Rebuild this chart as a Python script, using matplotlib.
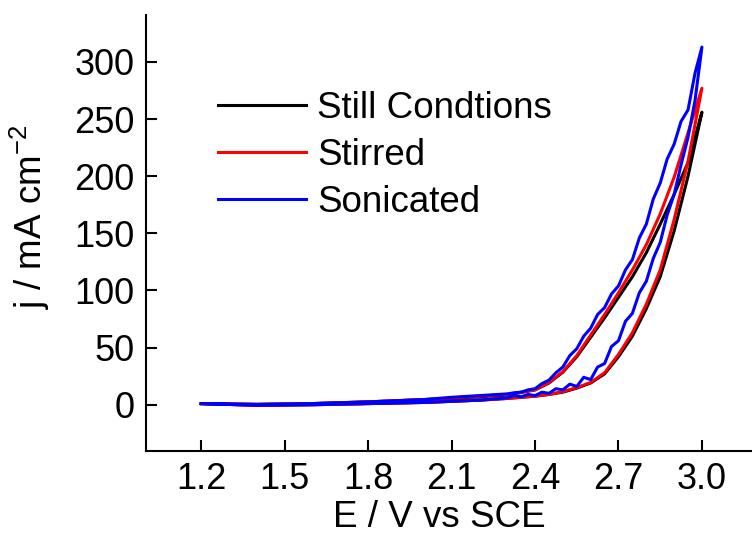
import matplotlib
matplotlib.use('Agg')
import matplotlib.pyplot as plt

plt.rcParams['font.family'] = ['Liberation Sans', 'DejaVu Sans']
plt.rcParams['mathtext.fontset'] = 'custom'
plt.rcParams['mathtext.rm'] = 'Liberation Sans'
plt.rcParams['mathtext.it'] = 'Liberation Sans:italic'

# potential grid (V vs SCE) for the smooth curves
e_fwd = [1.2, 1.4, 1.6, 1.8, 2.0, 2.1, 2.2, 2.3, 2.4, 2.45, 2.5, 2.55, 2.6, 2.65,
         2.7, 2.75, 2.8, 2.85, 2.9, 2.95, 3.0]
e_rev = e_fwd[::-1]

# still conditions
still_fwd = [1, -0.5, 0, 1, 2, 3, 4, 5.5, 7.5, 9, 11, 14.5, 19, 27,
             42, 60, 84, 112, 152, 200, 256]
still_rev = [256, 212, 184, 158, 133, 112, 94, 76, 59, 42, 28.5, 19, 13,
             8.5, 7, 5.5, 4.5, 2.5, 1, 0.3, 1]

# stirred
stir_fwd = [1, -0.5, 0, 1, 2, 3, 4, 5.5, 7.5, 9, 11.5, 15, 19.5, 28,
            44, 63, 88, 118, 162, 213, 277]
stir_rev = [277, 238, 199, 167, 140, 118, 98, 79, 61, 43, 29, 19.5, 13,
            9, 7.5, 6, 4.5, 2.5, 1, 0.3, 1]

# sonicated (noisy, so read at finer steps above 2.3 V)
e_son_fwd = [1.2, 1.4, 1.6, 1.8, 2.0, 2.1, 2.2,
             2.3, 2.325, 2.35, 2.375, 2.4, 2.425, 2.45, 2.475, 2.5, 2.525, 2.55,
             2.575, 2.6, 2.625, 2.65, 2.675, 2.7, 2.725, 2.75, 2.775, 2.8, 2.825,
             2.85, 2.875, 2.9, 2.925, 2.95, 2.975, 3.0]
son_fwd = [1, -0.5, 0, 1, 2, 3, 4,
           6, 8, 7, 9, 8, 11, 10, 14, 13, 18, 16,
           24, 22, 33, 36, 51, 56, 73, 80, 98, 108, 128,
           142, 166, 184, 210, 234, 266, 313]
e_son_rev = e_son_fwd[::-1]
son_rev = [313, 290, 258, 248, 228, 215, 194, 180, 158, 146, 127, 118, 104, 97,
           85, 79, 67, 60, 49, 43, 33, 28, 21.5, 18.5, 14, 13, 11, 10.5, 9.5,
           8, 6.5, 4.5, 2.5, 1, 0.3, 1]

fig = plt.figure(figsize=(7.52, 5.38), dpi=100)
ax = fig.add_axes([0.1937, 0.1617, 0.8063, 0.8103])

ax.plot(e_fwd + e_rev, still_fwd + still_rev, color='black', lw=2.2, label='Still Condtions')
ax.plot(e_fwd + e_rev, stir_fwd + stir_rev, color='red', lw=2.2, label='Stirred')
ax.plot(e_son_fwd + e_son_rev, son_fwd + son_rev, color='blue', lw=2.2, label='Sonicated')

ax.set_xlim(1.0, 3.18)
ax.set_ylim(-40.5, 341)
ax.set_xticks([1.2, 1.5, 1.8, 2.1, 2.4, 2.7, 3.0])
ax.set_xticklabels(['1.2', '1.5', '1.8', '2.1', '2.4', '2.7', '3.0'])
ax.set_yticks([0, 50, 100, 150, 200, 250, 300])

for s in ['top', 'right']:
    ax.spines[s].set_visible(False)
for s in ['left', 'bottom']:
    ax.spines[s].set_linewidth(1.5)
ax.tick_params(direction='in', length=8, width=1.5, labelsize=26, pad=8)

ax.set_xlabel('E / V vs SCE', fontsize=26.5)
ax.set_ylabel('j / mA cm$^{-2}$', fontsize=26.5)
ax.xaxis.set_label_coords(0.484, -0.112)
ax.yaxis.set_label_coords(-0.155, 0.537)

leg = ax.legend(loc='upper left', bbox_to_anchor=(0.2899, 0.831),
                bbox_transform=fig.transFigure, frameon=False, fontsize=26.5,
                handlelength=2.39, handletextpad=0.3, labelspacing=0.33,
                borderpad=0, borderaxespad=0)
for line in leg.get_lines():
    line.set_linewidth(2.2)

fig.savefig('out.png', dpi=100)
